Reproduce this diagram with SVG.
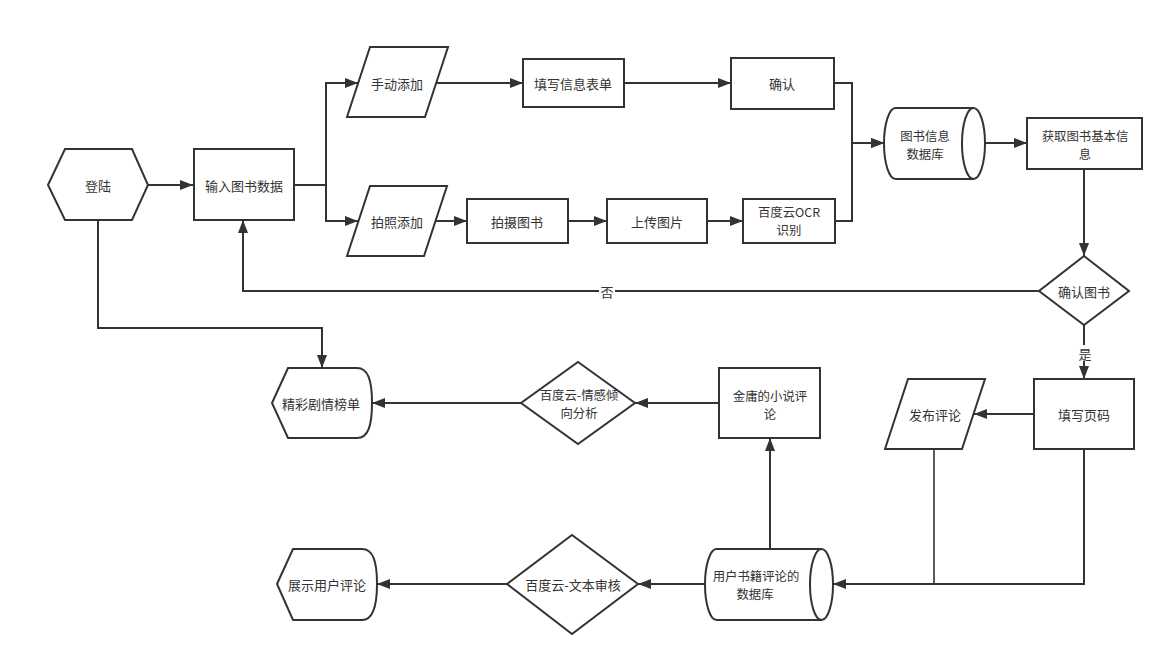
<svg xmlns="http://www.w3.org/2000/svg" width="1172" height="665" viewBox="0 0 1172 665">
<defs>
<marker id="arr" markerUnits="userSpaceOnUse" markerWidth="14" markerHeight="10" refX="13" refY="5" orient="auto">
<path d="M0,0 L13,5 L0,10 Z" fill="#333"/>
</marker>
<style>
.s{fill:#fff;stroke:#333;stroke-width:2}
.e{fill:none;stroke:#333;stroke-width:2}
.t{font-family:"Noto Sans CJK SC","Noto Sans",sans-serif;font-size:13px;fill:#333;text-anchor:middle;dominant-baseline:central}
.t2{font-size:12.4px}
.lb{fill:#fff}
</style>
</defs>
<rect width="1172" height="665" fill="#fff"/>
<g id="connectors">
<path class="e" d="M148,185 H193" marker-end="url(#arr)"/>
<path class="e" d="M294,185 H326 V83 H358" marker-end="url(#arr)"/>
<path class="e" d="M326,185 V221 H358" marker-end="url(#arr)"/>
<path class="e" d="M437,83 H523" marker-end="url(#arr)"/>
<path class="e" d="M624,83 H731" marker-end="url(#arr)"/>
<path class="e" d="M834,83 H852 V143 H884" marker-end="url(#arr)"/>
<path class="e" d="M436,221 H467" marker-end="url(#arr)"/>
<path class="e" d="M568,221 H607" marker-end="url(#arr)"/>
<path class="e" d="M707,221 H743" marker-end="url(#arr)"/>
<path class="e" d="M835,221 H852 V143 H884" marker-end="url(#arr)"/>
<path class="e" d="M985,143 H1027" marker-end="url(#arr)"/>
<path class="e" d="M1084,169 V256" marker-end="url(#arr)"/>
<path class="e" d="M1039,291 H243 V220" marker-end="url(#arr)"/>
<rect class="lb" x="599" y="283" width="16" height="16"/>
<text class="t" x="607" y="291">否</text>
<path class="e" d="M1084,325 V379" marker-end="url(#arr)"/>
<rect class="lb" x="1077" y="345" width="16" height="16"/>
<text class="t" x="1085" y="353">是</text>
<path class="e" d="M1034,414 H974" marker-end="url(#arr)"/>
<path class="e" d="M1084,449 V584 H833" marker-end="url(#arr)"/>
<path class="e" d="M934,449 V584" style="stroke-width:1.6"/>
<path class="e" d="M770,549 V438" marker-end="url(#arr)"/>
<path class="e" d="M719,403 H635" marker-end="url(#arr)"/>
<path class="e" d="M521,403 H372" marker-end="url(#arr)"/>
<path class="e" d="M705,584 H638" marker-end="url(#arr)"/>
<path class="e" d="M507,584 H377" marker-end="url(#arr)"/>
<path class="e" d="M98,220 V328 H322 V368" marker-end="url(#arr)"/>
</g>
<g id="n-login">
<polygon class="s" points="48,185 65,149 132,149 148,185 132,220 65,220"/>
<text class="t" x="98" y="185">登陆</text>
</g>
<g id="n-input">
<rect class="s" x="194" y="149" width="100" height="71"/>
<text class="t" x="244" y="185">输入图书数据</text>
</g>
<g id="n-manual">
<polygon class="s" points="370,47 448,47 425,117 347,117"/>
<text class="t" x="397" y="83">手动添加</text>
</g>
<g id="n-photo">
<polygon class="s" points="370,186 447,186 424,256 347,256"/>
<text class="t" x="397" y="221">拍照添加</text>
</g>
<g id="n-form">
<rect class="s" x="523" y="59" width="101" height="48"/>
<text class="t" x="573" y="83">填写信息表单</text>
</g>
<g id="n-confirm">
<rect class="s" x="731" y="58" width="103" height="51"/>
<text class="t" x="782" y="83">确认</text>
</g>
<g id="n-shoot">
<rect class="s" x="467" y="199" width="101" height="44"/>
<text class="t" x="517" y="221">拍摄图书</text>
</g>
<g id="n-upload">
<rect class="s" x="607" y="199" width="100" height="44"/>
<text class="t" x="657" y="221">上传图片</text>
</g>
<g id="n-ocr">
<rect class="s" x="743" y="199" width="92" height="44"/>
<text class="t t2" x="789" y="212">百度云OCR</text>
<text class="t t2" x="789" y="230">识别</text>
</g>
<g id="n-bookdb">
<path class="s" d="M895.5,108 H973.5 A11.5,35.5 0 0 1 973.5,179 H895.5 A11.5,35.5 0 0 1 895.5,108 Z"/>
<path class="e" d="M973.5,108 A11.5,35.5 0 0 0 973.5,179"/>
<text class="t t2" x="925" y="136">图书信息</text>
<text class="t t2" x="925" y="154">数据库</text>
</g>
<g id="n-getinfo">
<rect class="s" x="1027" y="118" width="115" height="51"/>
<text class="t t2" x="1085" y="136">获取图书基本信</text>
<text class="t t2" x="1085" y="154">息</text>
</g>
<g id="n-confirmbook">
<polygon class="s" points="1084,256 1129,291 1084,325 1039,291"/>
<text class="t" x="1084" y="291">确认图书</text>
</g>
<g id="n-page">
<rect class="s" x="1034" y="379" width="100" height="70"/>
<text class="t" x="1084" y="414">填写页码</text>
</g>
<g id="n-publish">
<polygon class="s" points="908,379 985,379 962,449 885,449"/>
<text class="t" x="935" y="414">发布评论</text>
</g>
<g id="n-commentdb">
<path class="s" d="M716.5,549 H821.5 A11.5,35.5 0 0 1 821.5,620 H716.5 A11.5,35.5 0 0 1 716.5,549 Z"/>
<path class="e" d="M821.5,549 A11.5,35.5 0 0 0 821.5,620"/>
<text class="t t2" x="756" y="576">用户书籍评论的</text>
<text class="t t2" x="755" y="594">数据库</text>
</g>
<g id="n-jinyong">
<rect class="s" x="719" y="368" width="101" height="70"/>
<text class="t t2" x="770" y="396">金庸的小说评</text>
<text class="t t2" x="770" y="414">论</text>
</g>
<g id="n-sentiment">
<polygon class="s" points="578,362 635,403 578,444 521,403"/>
<text class="t t2" x="579" y="395">百度云-情感倾</text>
<text class="t t2" x="579" y="413">向分析</text>
</g>
<g id="n-ranking">
<path class="s" d="M272,403 L288,368 H357 C368,368 372,380 372,403 C372,426 368,438 357,438 H288 Z"/>
<text class="t" x="321" y="403">精彩剧情榜单</text>
</g>
<g id="n-audit">
<polygon class="s" points="572,535 638,584 572,634 507,584"/>
<text class="t" x="573" y="584">百度云-文本审核</text>
</g>
<g id="n-show">
<path class="s" d="M277,584 L293,549 H362 C373,549 377,561 377,584 C377,607 373,620 362,620 H293 Z"/>
<text class="t" x="327" y="584">展示用户评论</text>
</g>
</svg>
